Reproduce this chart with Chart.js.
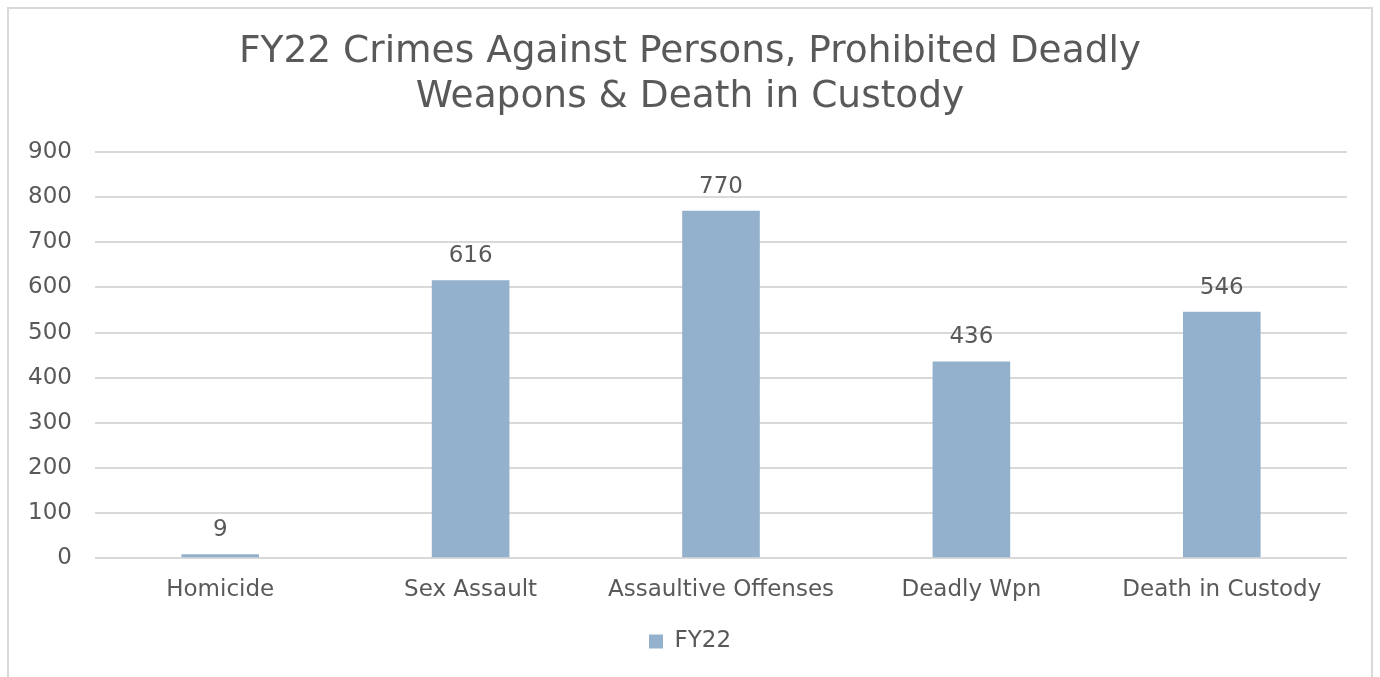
<!DOCTYPE html>
<html>
<head>
<meta charset="utf-8">
<script src="https://cdn.jsdelivr.net/npm/chart.js@4/dist/chart.umd.min.js"></script>
<style>
  html, body { margin: 0; padding: 0; background: #ffffff; overflow: hidden; }
  #frame { position: absolute; left: 7px; top: 7px; width: 1366px; height: 700px; border: 2px solid #d9d9d9; box-sizing: border-box; }
  #wrap { position: absolute; left: 0; top: 0; width: 1380px; height: 677px; }
</style>
</head>
<body>
<div id="frame"></div>
<div id="wrap"><canvas id="c" width="1380" height="677"></canvas></div>
<script>
const categories = ["Homicide", "Sex Assault", "Assaultive Offenses", "Deadly Wpn", "Death in Custody"];
const fy22Values = [9, 616, 770, 436, 546];
const seriesName = "FY22";
const titleLines = ["FY22 Crimes Against Persons, Prohibited Deadly", "Weapons & Death in Custody"];

const FONT = "'DejaVu Sans', 'Noto Sans', sans-serif";
const TEXT = "#595959";
const BAR = "#93b1cd";

const valueLabels = {
  id: "valueLabels",
  afterDatasetsDraw(chart) {
    const ctx = chart.ctx;
    const meta = chart.getDatasetMeta(0);
    ctx.save();
    ctx.font = "23px " + FONT;
    ctx.fillStyle = TEXT;
    ctx.textAlign = "center";
    ctx.textBaseline = "alphabetic";
    meta.data.forEach((bar, i) => {
      ctx.fillText(String(chart.data.datasets[0].data[i]), bar.x, bar.y - 18);
    });
    ctx.restore();
  }
};

new Chart(document.getElementById("c"), {
  type: "bar",
  data: {
    labels: categories,
    datasets: [{
      label: seriesName,
      data: fy22Values,
      backgroundColor: BAR,
      borderWidth: 0,
      barPercentage: 0.62,
      categoryPercentage: 0.5,
      yAxisID: "y"
    }]
  },
  options: {
    responsive: false,
    animation: false,
    devicePixelRatio: 1,
    layout: { padding: { left: 0, right: 0, top: 30, bottom: 14 } },
    plugins: {
      title: {
        display: true,
        text: titleLines,
        color: TEXT,
        font: { family: FONT, size: 37.5, weight: "normal", lineHeight: 1.2 },
        padding: { top: 0, bottom: 32 }
      },
      legend: {
        display: true,
        position: "bottom",
        labels: {
          color: TEXT,
          font: { family: FONT, size: 23 },
          boxWidth: 14,
          boxHeight: 14,
          padding: 9
        }
      },
      tooltip: { enabled: false }
    },
    scales: {
      x: {
        grid: { display: false, drawTicks: false },
        border: { display: false },
        ticks: { color: TEXT, font: { family: FONT, size: 23, lineHeight: 1.25 }, padding: 17, maxRotation: 0 }
      },
      y: {
        position: "left",
        min: 0,
        max: 900,
        afterFit(scale) { scale.width = 95; },
        grid: { color: "#d9d9d9", lineWidth: 2, drawTicks: false },
        border: { display: false },
        ticks: { stepSize: 100, color: TEXT, font: { family: FONT, size: 23 }, padding: 23 }
      },
      spacer: {
        type: "linear",
        position: "right",
        min: 0,
        max: 900,
        afterFit(scale) { scale.width = 33; },
        grid: { display: false, drawTicks: false },
        border: { display: false },
        ticks: { display: false }
      }
    }
  },
  plugins: [valueLabels]
});
</script>
</body>
</html>
